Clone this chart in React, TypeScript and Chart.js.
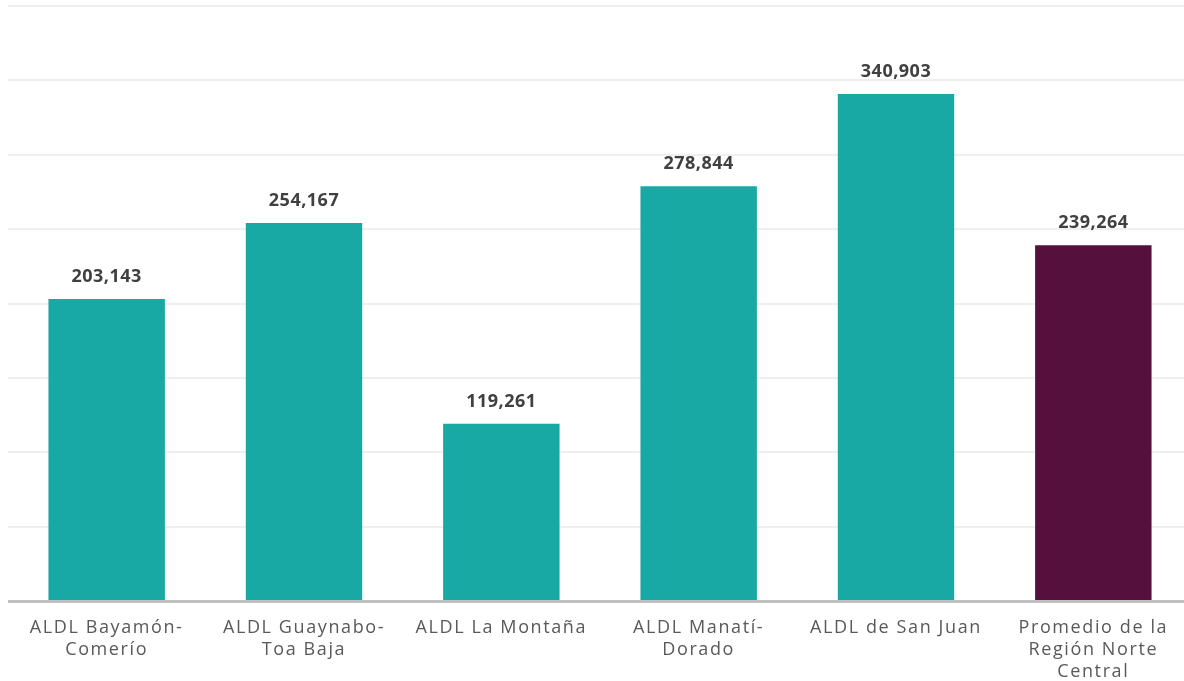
import React, { useEffect, useRef } from "react";
import { Chart, registerables } from "chart.js";

Chart.register(...registerables);

const categories: string[][] = [
  ["ALDL Bayamón-", "Comerío"],
  ["ALDL Guaynabo-", "Toa Baja"],
  ["ALDL La Montaña"],
  ["ALDL Manatí-", "Dorado"],
  ["ALDL de San Juan"],
  ["Promedio de la", "Región Norte", "Central"],
];
const values: number[] = [203143, 254167, 119261, 278844, 340903, 239264];
const barColors: string[] = ["#18a9a5", "#18a9a5", "#18a9a5", "#18a9a5", "#18a9a5", "#56103e"];

const FONT = "'Open Sans', sans-serif";

const spacing = {
  id: "spacing",
  beforeLayout(chart: any) {
    chart.ctx.letterSpacing = "1.6px";
  },
  beforeDraw(chart: any) {
    chart.ctx.letterSpacing = "1.6px";
  },
};

const valueLabels = {
  id: "valueLabels",
  afterDatasetsDraw(chart: any) {
    const ctx = chart.ctx;
    const meta = chart.getDatasetMeta(0);
    ctx.save();
    ctx.letterSpacing = "0.5px";
    ctx.font = `bold 18px ${FONT}`;
    ctx.fillStyle = "#404040";
    ctx.textAlign = "center";
    ctx.textBaseline = "alphabetic";
    meta.data.forEach((bar: any, i: number) => {
      ctx.fillText(values[i].toLocaleString("en-US"), bar.x, bar.y - 17);
    });
    ctx.restore();
  },
};

export default function App() {
  const ref = useRef<HTMLCanvasElement>(null);
  useEffect(() => {
    if (!ref.current) return;
    const chart = new Chart(ref.current, {
      type: "bar",
      data: {
        labels: categories,
        datasets: [
          {
            data: values,
            backgroundColor: barColors,
            categoryPercentage: 1,
            barPercentage: 0.59,
          },
        ],
      },
      options: {
        animation: false,
        responsive: true,
        maintainAspectRatio: false,
        layout: { padding: { top: 6, left: 0, right: 0, bottom: 0 } },
        plugins: { legend: { display: false }, tooltip: { enabled: false } },
        scales: {
          x: {
            grid: { display: false },
            border: { display: true, color: "#c0c0c0", width: 3 },
            ticks: {
              color: "#595959",
              font: { family: FONT, size: 18, lineHeight: 1.22 },
              padding: 8,
              maxRotation: 0,
              autoSkip: false,
            },
          },
          y: {
            min: 0,
            max: 400000,
            ticks: { display: false, stepSize: 50000 },
            grid: { color: "#efefef", lineWidth: 2, drawTicks: false },
            border: { display: false },
          },
        },
      },
      plugins: [spacing, valueLabels],
    });
    return () => chart.destroy();
  }, []);
  return (
    <div style={{ position: "fixed", left: 8, top: 0, width: 1184, height: 691 }}>
      <canvas ref={ref} />
    </div>
  );
}
